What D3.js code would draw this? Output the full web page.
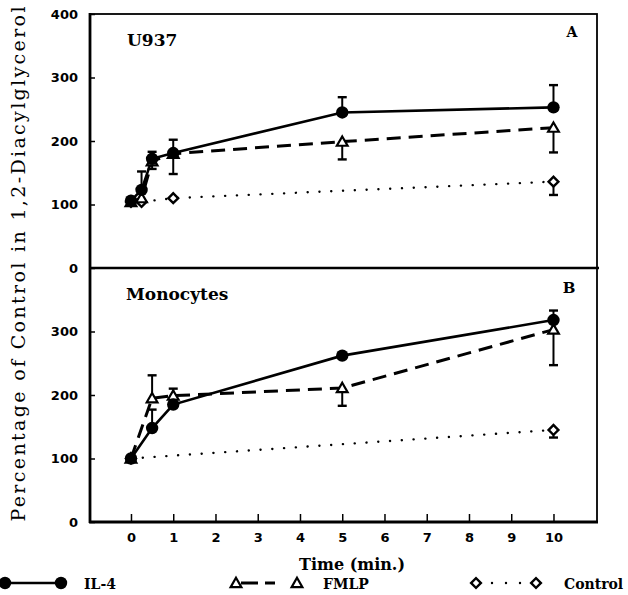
<!DOCTYPE html>
<html>
<head>
<meta charset="utf-8">
<script src="https://cdn.jsdelivr.net/npm/d3@7"></script>
<style>
  html, body { margin: 0; padding: 0; background: #fff; }
  svg { display: block; }
</style>
</head>
<body>
<svg id="chart" width="628" height="595"></svg>
<script>
// ---- Data -------------------------------------------------------------
const xTicks = [0, 1, 2, 3, 4, 5, 6, 7, 8, 9, 10];
const yTicksA = [0, 100, 200, 300, 400];
const yTicksB = [0, 100, 200, 300];

// Panel A: U937
const tA_IL4 = [0, 0.25, 0.5, 1, 5, 10];
const vA_IL4 = [106, 123, 172, 181, 245, 253];
const hiA_IL4 = [null, 152, 183, 202, 269, 288];
const loA_IL4 = [null, null, null, null, null, null];

const tA_FMLP = [0, 0.25, 0.5, 1, 5, 10];
const vA_FMLP = [104, 110, 168, 180, 199, 221];
const hiA_FMLP = [null, null, null, null, null, null];
const loA_FMLP = [null, null, 156, 148, 171, 182];

const tA_CTRL = [0, 0.25, 1, 10];
const vA_CTRL = [104, 104, 110, 136];
const hiA_CTRL = [null, null, null, null];
const loA_CTRL = [null, null, null, 115];

// Panel B: Monocytes
const tB_IL4 = [0, 0.5, 1, 5, 10];
const vB_IL4 = [100, 148, 185, 262, 318];
const hiB_IL4 = [null, 177, null, null, 333];
const loB_IL4 = [null, null, null, null, null];

const tB_FMLP = [0, 0.5, 1, 5, 10];
const vB_FMLP = [100, 195, 199, 211, 303];
const hiB_FMLP = [null, 231, 210, null, null];
const loB_FMLP = [null, null, null, 183, 247];

const tB_CTRL = [0, 10];
const vB_CTRL = [100, 145];
const hiB_CTRL = [null, null];
const loB_CTRL = [null, 133];

const legendLabels = ["IL-4", "FMLP", "Control"];

// ---- Layout -----------------------------------------------------------
const svg = d3.select("#chart");
const left = 90, right = 597;
const topA = 14, midY = 268, botB = 522;

const x = d3.scaleLinear().domain([-0.97, 11.03]).range([left, right]);
const yA = d3.scaleLinear().domain([0, 400]).range([midY, topA]);
const yB = d3.scaleLinear().domain([0, 400]).range([botB, midY]);

const tickFont = "'DejaVu Sans', sans-serif";
const serif = "'DejaVu Serif', serif";

function pack(t, v, hi, lo) {
  return t.map((tt, i) => ({ t: tt, v: v[i], hi: hi[i], lo: lo[i] }));
}

const styles = {
  il4:  { dash: null,       width: 2.6, cap: "butt" },
  fmlp: { dash: "14,8",     width: 3,   cap: "butt" },
  ctrl: { dash: "0.1,11.7", width: 2.4, cap: "round" }
};

const triSym = d3.symbol().type(d3.symbolTriangle).size(50);
const sqSym = d3.symbol().type(d3.symbolSquare).size(48);

function drawMarker(g, kind, cx, cy) {
  if (kind === "il4") {
    g.append("circle").attr("cx", cx).attr("cy", cy).attr("r", 6.2)
      .attr("fill", "#000");
  } else if (kind === "fmlp") {
    g.append("path").attr("d", triSym())
      .attr("transform", `translate(${cx},${cy + 1})`)
      .attr("fill", "#fff").attr("stroke", "#000").attr("stroke-width", 2.2);
  } else {
    g.append("path").attr("d", sqSym())
      .attr("transform", `translate(${cx},${cy}) rotate(45)`)
      .attr("fill", "#fff").attr("stroke", "#000").attr("stroke-width", 2.4);
  }
}

function drawPanel(y, series, ticks) {
  const g = svg.append("g");
  const line = d3.line().x(d => x(d.t)).y(d => y(d.v));

  // connecting lines
  series.forEach(s => {
    const st = styles[s.kind];
    g.append("path").datum(s.data).attr("d", line)
      .attr("fill", "none").attr("stroke", "#000")
      .attr("stroke-width", st.width)
      .attr("stroke-linecap", st.cap)
      .attr("stroke-dasharray", st.dash);
  });

  // error bars
  series.forEach(s => {
    s.data.forEach(d => {
      [d.hi, d.lo].forEach(e => {
        if (e == null) return;
        g.append("line").attr("x1", x(d.t)).attr("x2", x(d.t))
          .attr("y1", y(d.v)).attr("y2", y(e))
          .attr("stroke", "#000").attr("stroke-width", 2);
        g.append("line").attr("x1", x(d.t) - 4.5).attr("x2", x(d.t) + 4.5)
          .attr("y1", y(e)).attr("y2", y(e))
          .attr("stroke", "#000").attr("stroke-width", 2.4);
      });
    });
  });

  // markers (control first, filled circles on top)
  ["ctrl", "fmlp", "il4"].forEach(k => {
    series.filter(s => s.kind === k).forEach(s => {
      s.data.forEach(d => drawMarker(g, k, x(d.t), y(d.v)));
    });
  });

  // y axis ticks (inward) and labels
  const ax = svg.append("g").attr("transform", `translate(${left},0)`)
    .call(d3.axisLeft(y).tickValues(ticks).tickSize(-5).tickPadding(12)
      .tickFormat(d3.format("d")));
  ax.select(".domain").remove();
  ax.selectAll(".tick line").attr("stroke-width", 1.5);
  ax.selectAll(".tick text").attr("font-family", tickFont)
    .attr("font-weight", "bold").attr("font-size", 13).attr("fill", "#000");
  return g;
}

drawPanel(yA, [
  { kind: "ctrl", data: pack(tA_CTRL, vA_CTRL, hiA_CTRL, loA_CTRL) },
  { kind: "fmlp", data: pack(tA_FMLP, vA_FMLP, hiA_FMLP, loA_FMLP) },
  { kind: "il4",  data: pack(tA_IL4, vA_IL4, hiA_IL4, loA_IL4) }
], yTicksA);

drawPanel(yB, [
  { kind: "ctrl", data: pack(tB_CTRL, vB_CTRL, hiB_CTRL, loB_CTRL) },
  { kind: "fmlp", data: pack(tB_FMLP, vB_FMLP, hiB_FMLP, loB_FMLP) },
  { kind: "il4",  data: pack(tB_IL4, vB_IL4, hiB_IL4, loB_IL4) }
], yTicksB);

// x axis at bottom of panel B
const xa = svg.append("g").attr("transform", `translate(0,${botB})`)
  .call(d3.axisBottom(x).tickValues(xTicks).tickSize(-8).tickPadding(11));
xa.select(".domain").remove();
xa.selectAll(".tick line").attr("stroke-width", 1.5);
xa.selectAll(".tick text").attr("font-family", tickFont)
  .attr("font-weight", "bold").attr("font-size", 13).attr("fill", "#000");

// frames
const frame = svg.append("g").attr("fill", "none").attr("stroke", "#000");
frame.append("rect").attr("x", left).attr("y", topA)
  .attr("width", right - left).attr("height", botB - topA).attr("stroke-width", 1.8);
frame.append("line").attr("x1", left).attr("x2", right + 2)
  .attr("y1", midY).attr("y2", midY).attr("stroke-width", 2.6);
frame.append("line").attr("x1", left).attr("x2", left)
  .attr("y1", topA - 1).attr("y2", botB + 1).attr("stroke-width", 2.8);
frame.append("line").attr("x1", left - 1).attr("x2", right + 1)
  .attr("y1", botB).attr("y2", botB).attr("stroke-width", 2.8);

// panel labels
svg.append("text").attr("x", 127).attr("y", 46).text("U937")
  .attr("font-family", serif).attr("font-weight", "bold").attr("font-size", 17);
svg.append("text").attr("x", 572).attr("y", 37).text("A").attr("text-anchor", "middle")
  .attr("font-family", serif).attr("font-weight", "bold").attr("font-size", 14);
svg.append("text").attr("x", 126).attr("y", 300).text("Monocytes")
  .attr("font-family", serif).attr("font-weight", "bold").attr("font-size", 17);
svg.append("text").attr("x", 569).attr("y", 293).text("B").attr("text-anchor", "middle")
  .attr("font-family", serif).attr("font-weight", "bold").attr("font-size", 15);

// axis titles
svg.append("text").attr("x", 352).attr("y", 570).attr("text-anchor", "middle")
  .text("Time (min.)")
  .attr("font-family", serif).attr("font-weight", "bold").attr("font-size", 16);
svg.append("text")
  .attr("transform", "translate(25,264) rotate(-90)")
  .attr("text-anchor", "middle")
  .attr("textLength", 515).attr("lengthAdjust", "spacing")
  .text("Percentage of Control in 1,2-Diacylglycerol")
  .attr("font-family", serif).attr("font-size", 19);

// legend
const ly = 583;
const lg = svg.append("g");
const legendItems = [
  { kind: "il4",  x1: 5,   x2: 61,  tx: 84,  dash: null },
  { kind: "fmlp", x1: 236, x2: 297, tx: 323, dash: "0,5,17,7,10,60" },
  { kind: "ctrl", x1: 476, x2: 536, tx: 564, dash: "0,16,0,14,0,14,0,40" }
];
legendItems.forEach((it, i) => {
  const st = styles[it.kind];
  lg.append("line").attr("x1", it.x1).attr("x2", it.x2).attr("y1", ly).attr("y2", ly)
    .attr("stroke", "#000").attr("stroke-width", st.width)
    .attr("stroke-linecap", st.cap)
    .attr("stroke-dasharray", it.dash);
  drawMarker(lg, it.kind, it.x1, ly);
  drawMarker(lg, it.kind, it.x2, ly);
  lg.append("text").attr("x", it.tx).attr("y", ly + 6).text(legendLabels[i])
    .attr("font-family", serif).attr("font-weight", "bold").attr("font-size", 14);
});
</script>
</body>
</html>
